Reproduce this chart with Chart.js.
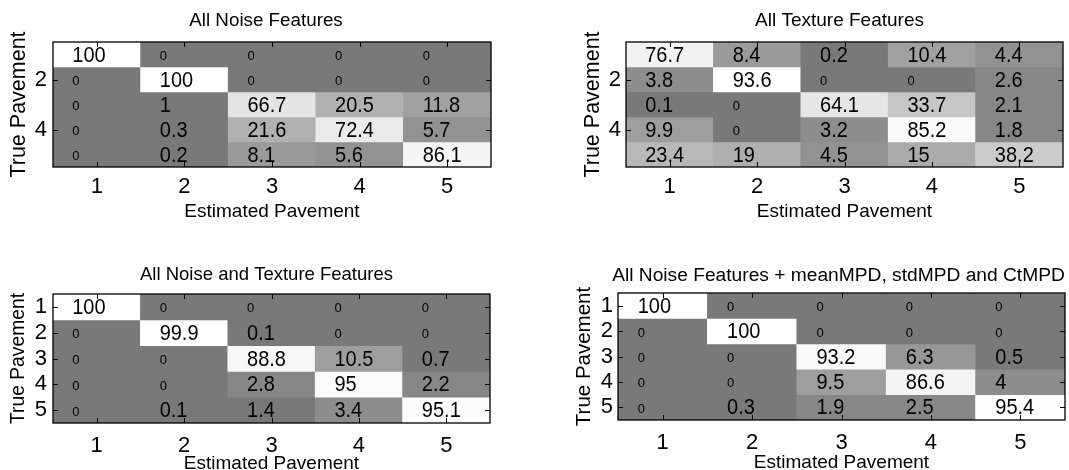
<!DOCTYPE html>
<html>
<head>
<meta charset="utf-8">
<script src="https://cdn.jsdelivr.net/npm/chart.js@4.4.1/dist/chart.umd.min.js"></script>
<style>
html,body{margin:0;padding:0;background:#fff;width:1069px;height:470px;overflow:hidden;position:relative}
canvas{position:absolute}
</style>
</head>
<body>
<canvas id="c0"></canvas>
<canvas id="c1"></canvas>
<canvas id="c2"></canvas>
<canvas id="c3"></canvas>
<script>
// ---------------- data ----------------
const categories = ['1', '2', '3', '4', '5'];          // estimated pavement (columns)
const rowTicksSparse = [2, 4];                          // y tick labels, top panels
const rowTicksFull = [1, 2, 3, 4, 5];                   // y tick labels, bottom panels
const xAxisTitle = 'Estimated Pavement';
const yAxisTitle = 'True Pavement';

const titleNoise = 'All Noise Features';
const titleTexture = 'All Texture Features';
const titleNoiseTexture = 'All Noise and Texture Features';
const titleNoiseMpd = 'All Noise Features + meanMPD, stdMPD and CtMPD';

// rows = true pavement 1..5, columns = estimated pavement 1..5 (percent)
const noiseVals = [
  [100, 0, 0, 0, 0],
  [0, 100, 0, 0, 0],
  [0, 1, 66.7, 20.5, 11.8],
  [0, 0.3, 21.6, 72.4, 5.7],
  [0, 0.2, 8.1, 5.6, 86.1]
];
const textureVals = [
  [76.7, 8.4, 0.2, 10.4, 4.4],
  [3.8, 93.6, 0, 0, 2.6],
  [0.1, 0, 64.1, 33.7, 2.1],
  [9.9, 0, 3.2, 85.2, 1.8],
  [23.4, 19, 4.5, 15, 38.2]
];
const noiseTextureVals = [
  [100, 0, 0, 0, 0],
  [0, 99.9, 0.1, 0, 0],
  [0, 0, 88.8, 10.5, 0.7],
  [0, 0, 2.8, 95, 2.2],
  [0, 0.1, 1.4, 3.4, 95.1]
];
const noiseMpdVals = [
  [100, 0, 0, 0, 0],
  [0, 100, 0, 0, 0],
  [0, 0, 93.2, 6.3, 0.5],
  [0, 0, 9.5, 86.6, 4],
  [0, 0.3, 1.9, 2.5, 95.4]
];

// ---------------- styling / layout ----------------
const FONT = "'Liberation Sans', Arial, Helvetica, sans-serif";
const AXIS_TITLE_SIZE = 19;
const TICK_SIZE = 22;
const CELL_SIZE = 20;
const CELL_STRETCH = 1.12;
const ZERO_SIZE = 13;
const LH = 1.2;

const panels = [
  {id: 'c0', title: titleNoise, values: noiseVals, yTicks: rowTicksSparse,
   x0: 0, y0: 0, w: 534, h: 250, L: 53, T: 42, R: 491, B: 167, titleSize: 18.8, titleDx: -6,
   titleY: 20.5, xLabY: 185, xTitleY: 212, yTitleX: 19, yTitleSize: 21.5, yPad: 6},
  {id: 'c1', title: titleTexture, values: textureVals, yTicks: rowTicksSparse,
   x0: 534, y0: 0, w: 535, h: 250, L: 626, T: 42, R: 1063, B: 167, titleSize: 19, titleDx: -5,
   titleY: 20.5, xLabY: 185, xTitleY: 212, yTitleX: 593, yTitleSize: 21.5, yPad: 5},
  {id: 'c2', title: titleNoiseTexture, values: noiseTextureVals, yTicks: rowTicksFull,
   x0: 0, y0: 235, w: 534, h: 250, L: 53, T: 294, R: 490, B: 423, titleSize: 18.5, titleDx: -5,
   titleY: 275, xLabY: 444, xTitleY: 464, yTitleX: 18.5, yTitleSize: 19.3, yPad: 6},
  {id: 'c3', title: titleNoiseMpd, values: noiseMpdVals, yTicks: rowTicksFull,
   x0: 534, y0: 235, w: 535, h: 250, L: 618, T: 293, R: 1065, B: 420, titleSize: 19.2, titleDx: -3,
   titleY: 275.5, xLabY: 441, xTitleY: 463, yTitleX: 584, yTitleSize: 20.5, yPad: 5}
];

// MATLAB-like 64-level gray colormap (upper part of the gray range)
function grayColor(v, vmax) {
  const idx = Math.min(63, Math.floor(v / vmax * 64));
  const t = idx / 63;
  const g = Math.round(255 * (0.475 + 0.525 * Math.pow(t, 0.55)));
  return 'rgb(' + g + ',' + g + ',' + g + ')';
}

const cellPlugin = {
  id: 'cells',
  afterDatasetsDraw(chart, args, opts) {
    const ctx = chart.ctx;
    const xs = chart.scales.x, ys = chart.scales.y;
    const ca = chart.chartArea;
    const vals = opts.values;
    const colW = xs.getPixelForValue(1) - xs.getPixelForValue(0);
    ctx.save();
    ctx.fillStyle = '#000';
    ctx.textAlign = 'left';
    ctx.textBaseline = 'middle';
    vals.forEach((row, r) => {
      row.forEach((v, c) => {
        const x = xs.getPixelForValue(c) - colW * 0.5 + colW * 0.22;
        const y = ys.getPixelForValue(r + 1);
        if (v === 0) {
          ctx.font = ZERO_SIZE + 'px ' + FONT;
          ctx.fillText(String(v), x, y + 2);
        } else {
          ctx.save();
          ctx.translate(x, y + 1);
          ctx.scale(1, CELL_STRETCH);
          ctx.font = CELL_SIZE + 'px ' + FONT;
          ctx.fillText(String(v), 0, 0);
          ctx.restore();
        }
      });
    });
    // box
    ctx.strokeStyle = '#000';
    ctx.lineWidth = 1.3;
    ctx.strokeRect(ca.left, ca.top, ca.right - ca.left, ca.bottom - ca.top);
    // inward tick marks on all four sides
    ctx.lineWidth = 1;
    const tl = 5;
    ctx.beginPath();
    categories.forEach((_, i) => {
      const px = Math.round(xs.getPixelForValue(i)) + 0.5;
      ctx.moveTo(px, ca.bottom); ctx.lineTo(px, ca.bottom - tl);
      ctx.moveTo(px, ca.top); ctx.lineTo(px, ca.top + tl);
    });
    opts.yTicks.forEach(v => {
      const py = Math.round(ys.getPixelForValue(v)) + 0.5;
      ctx.moveTo(ca.left, py); ctx.lineTo(ca.left + tl, py);
      ctx.moveTo(ca.right, py); ctx.lineTo(ca.right - tl, py);
    });
    ctx.stroke();
    // panel title, centred over the axes
    ctx.font = opts.titleSize + 'px ' + FONT;
    ctx.textAlign = 'center';
    ctx.textBaseline = 'middle';
    ctx.fillText(opts.title, (ca.left + ca.right) / 2 + opts.titleDx, opts.titleY);
    ctx.restore();
  }
};

function makeChart(p) {
  const canvas = document.getElementById(p.id);
  canvas.style.left = p.x0 + 'px';
  canvas.style.top = p.y0 + 'px';
  canvas.width = p.w;
  canvas.height = p.h;
  canvas.style.width = p.w + 'px';
  canvas.style.height = p.h + 'px';

  const vmax = Math.max(...p.values.flat());
  const datasets = p.values.map((row, r) => ({
    data: row.map(() => [r + 0.5, r + 1.5]),
    backgroundColor: row.map(v => grayColor(v, vmax)),
    borderWidth: 0,
    barPercentage: 1,
    categoryPercentage: 1,
    grouped: false
  }));

  const aLH = AXIS_TITLE_SIZE * LH;
  const yLH = p.yTitleSize * LH;
  const xTickPad = p.xLabY - p.B - TICK_SIZE * 0.49;
  const xTitlePadBottom = (p.y0 + p.h) - p.xTitleY - aLH / 2;
  const yTitlePadTop = p.yTitleX - p.x0 - yLH / 2;

  new Chart(canvas, {
    type: 'bar',
    data: {labels: categories, datasets: datasets},
    options: {
      responsive: false,
      animation: false,
      devicePixelRatio: 1,
      layout: {padding: {left: 0, top: p.T - p.y0, bottom: 0, right: p.w - (p.R - p.x0)}},
      plugins: {
        legend: {display: false},
        tooltip: {enabled: false},
        title: {display: false},
        cells: {values: p.values, yTicks: p.yTicks, title: p.title, titleY: p.titleY - p.y0,
                titleSize: p.titleSize, titleDx: p.titleDx}
      },
      scales: {
        x: {
          type: 'category', offset: true,
          grid: {display: false, drawTicks: false},
          border: {display: false},
          ticks: {color: '#000', font: {family: FONT, size: TICK_SIZE, lineHeight: LH},
                  padding: xTickPad, maxRotation: 0, autoSkip: false},
          title: {display: true, text: xAxisTitle, color: '#000',
                  font: {family: FONT, size: AXIS_TITLE_SIZE, lineHeight: LH},
                  padding: {top: 0, bottom: xTitlePadBottom}},
          afterFit: s => { s.height = p.y0 + p.h - p.B; }
        },
        y: {
          type: 'linear', min: 0.5, max: 5.5, reverse: true,
          grid: {display: false, drawTicks: false},
          border: {display: false},
          afterBuildTicks: s => { s.ticks = p.yTicks.map(v => ({value: v})); },
          ticks: {color: '#000', font: {family: FONT, size: TICK_SIZE, lineHeight: LH},
                  padding: p.yPad, callback: v => String(v)},
          title: {display: true, text: yAxisTitle, color: '#000',
                  font: {family: FONT, size: p.yTitleSize, lineHeight: LH},
                  padding: {top: yTitlePadTop, bottom: 0}},
          afterFit: s => { s.width = p.L - p.x0; }
        }
      }
    },
    plugins: [cellPlugin]
  });
}

panels.forEach(makeChart);
</script>
</body>
</html>
